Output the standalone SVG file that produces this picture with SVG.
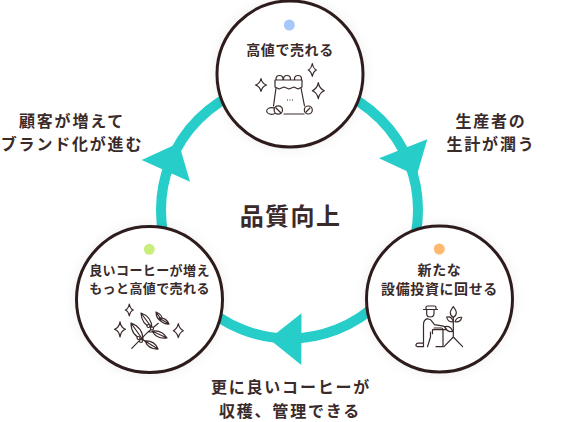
<svg xmlns="http://www.w3.org/2000/svg" width="580" height="422" viewBox="0 0 580 422">
<defs>
<filter id="sh" x="-20%" y="-20%" width="140%" height="140%"><feDropShadow dx="0" dy="0" stdDeviation="6" flood-color="#000" flood-opacity="0.07"/></filter>
</defs>
<style>
text{font-family:"Noto Sans CJK JP","Noto Sans",sans-serif;fill:#3a2a2a;text-anchor:middle;font-weight:700}
.n{font-size:13px;letter-spacing:.4px}
.m{font-size:14px;letter-spacing:.6px}
.l{font-size:16px;letter-spacing:1.8px}
.c{fill:#fff;stroke:#2f1e1e;stroke-width:3;filter:url(#sh)}
.i{fill:#fff;stroke:#3a2a2a;stroke-width:1.200;stroke-linejoin:round;stroke-linecap:round}
.t{fill:none;stroke:#26cdc9;stroke-width:10}
.a{fill:#26cdc9}
</style>
<g id="connectors">
<circle class="t" cx="289.500" cy="210" r="128.500"/>
<polygon class="a" points="427.300,139.300 379,158.300 416.700,175.700"/>
<polygon class="a" points="301.500,313.300 301.300,365 269,339"/>
<polygon class="a" points="141.700,160 178.700,143 190,181.700"/>
</g>
<text x="290.500" y="225" style="font-size:24px;letter-spacing:1.400px">品質向上</text>
<text class="l" x="491" y="127">生産者の</text>
<text class="l" x="491" y="150">生計が潤う</text>
<text class="l" x="291" y="393">更に良いコーヒーが</text>
<text class="l" x="290" y="417">収穫、管理できる</text>
<text class="l" x="72" y="127">顧客が増えて</text>
<text class="l" x="72" y="150">ブランド化が進む</text>
<g id="node-top">
<circle class="c" cx="290" cy="74" r="73"/>
<circle cx="289.300" cy="25" r="5.500" fill="#a8c8fb"/>
<text class="m" x="290" y="55">高値で売れる</text>
<circle class="i" cx="279.500" cy="79" r="3.500"/><circle class="i" cx="287" cy="79" r="3.500"/><circle class="i" cx="298" cy="79" r="3.500"/>
<path class="i" d="M275 80h27v7l-4 2-4-2-5 2-5-2-5 2-4-2z"/>
<path class="i" fill="none" d="M276 88l-2.500 18M301 88l3.500 18M284 114h20"/>
<ellipse class="i" cx="271.700" cy="111" rx="5" ry="3.300"/><circle class="i" cx="278.300" cy="110" r="4.200"/><circle class="i" cx="308.300" cy="110" r="4"/>
<path d="M276 108l4.500 4.500M306 112l4-4" class="i"/>
<path d="M287 100h1M289.500 100h1M292 100h1" stroke="#3a2a2a"/>
<path class="i" d="M261 78.500q1 5 5.500 6.500q-4.500 1.500-5.500 6.500q-1-5-5.500-6.500q4.500-1.500 5.500-6.500z"/>
<path class="i" d="M312.300 63.500q1 5 4 6.500q-3 1.500-4 6.500q-1-5-4-6.500q3-1.500 4-6.500zM318.300 82.700q1 6 6 8q-5 2-6 8q-1-6-6-8q5-2 6-8z"/>
</g>
<g id="node-right">
<circle class="c" cx="439.500" cy="299" r="73"/>
<circle cx="439.300" cy="249" r="5.500" fill="#ffb86f"/>
<text class="m" x="439.500" y="275">新たな</text>
<text class="m" x="439.500" y="293.500">設備投資に回せる</text>
<path class="i" d="M423.500 309.500h14M426 309.500v-2q0-1.500 1.500-1.500h7q1.500 0 1.500 1.500v2z"/>
<path class="i" fill="none" d="M426.700 310v4q0 3 3.500 3q3.500 0 3.800-3v-4M423.500 346.700v-22q0-5 4-6l3 1l4 5l9 1.500q2 .5 2 2.500v1h-13v4M434 328h7q2 0 2 2v16.700h-7M430.500 332v5l-3 9.700M423.500 346.700h-6q-2-.5-1.500-2q.5-1.500 2-1.500h5.500"/>
<path class="i" fill="none" d="M453.300 337l-9.300 9.700M453.300 337l9.300 9.700M453.300 337v-20"/>
<path class="i" d="M453.300 306.700q3 4 3 6q0 3-3 4.600q-3-1.600-3-4.600q0-2 3-6zM446.700 317q5-1 6.600 4.700q-5.500 1-6.600-4.700zM461.700 317.300q-5-.5-6.700 4.400q5.500 1 6.700-4.400zM445 326.500q6-1 7.700 5q-6 1-7.700-5z"/>
</g>
<g id="node-left">
<circle class="c" cx="149.500" cy="299.500" r="73"/>
<circle cx="149.300" cy="249.300" r="5.500" fill="#c9ee7d"/>
<text class="n" x="149.500" y="275">良いコーヒーが増え</text>
<text class="n" x="149.500" y="293">もっと高値で売れる</text>
<path class="i" fill="none" d="M131.700 348.300L148.300 331.700L158.300 323.300M148 332h5M142 339l3 2"/>
<path class="i" d="M131 323Q131 335.500 143 340Q143 327.500 131 323ZM131 323L143 340"/>
<path class="i" d="M141 313Q141.500 324.500 152 328Q151.500 316.500 141 313ZM141 313L152 328"/>
<path class="i" d="M156 312Q156 319.500 163 322Q163 314.500 156 312ZM156 312L163 322"/>
<path class="i" d="M159 318Q162 324.500 169 324Q166 317.500 159 318ZM159 318L169 324"/>
<path class="i" d="M152 331Q157 339.500 167 338Q162 329.500 152 331ZM152 331L167 338"/>
<path class="i" d="M145 341Q148.500 349.500 158 349Q154.500 340.500 145 341ZM145 341L158 349"/>
<circle class="i" cx="148.500" cy="326" r="1.500"/><circle class="i" cx="152" cy="328.500" r="1.500"/><circle class="i" cx="138.500" cy="338" r="1.500"/><circle class="i" cx="141" cy="341" r="1.500"/>
<path class="i" d="M129.300 304q1 5 4 6q-3 1-4 6q-1-5-4-6q3-1 4-6zM120 321.800q1 6 5.500 7.500q-4.500 1.500-5.500 7.500q-1-6-5.500-7.500q4.500-1.500 5.500-7.500z"/>
<path class="i" d="M178.300 323.700q1 5 5 7q-4 2-5 7q-1-5-5-7q4-2 5-7z"/>
</g>
</svg>
